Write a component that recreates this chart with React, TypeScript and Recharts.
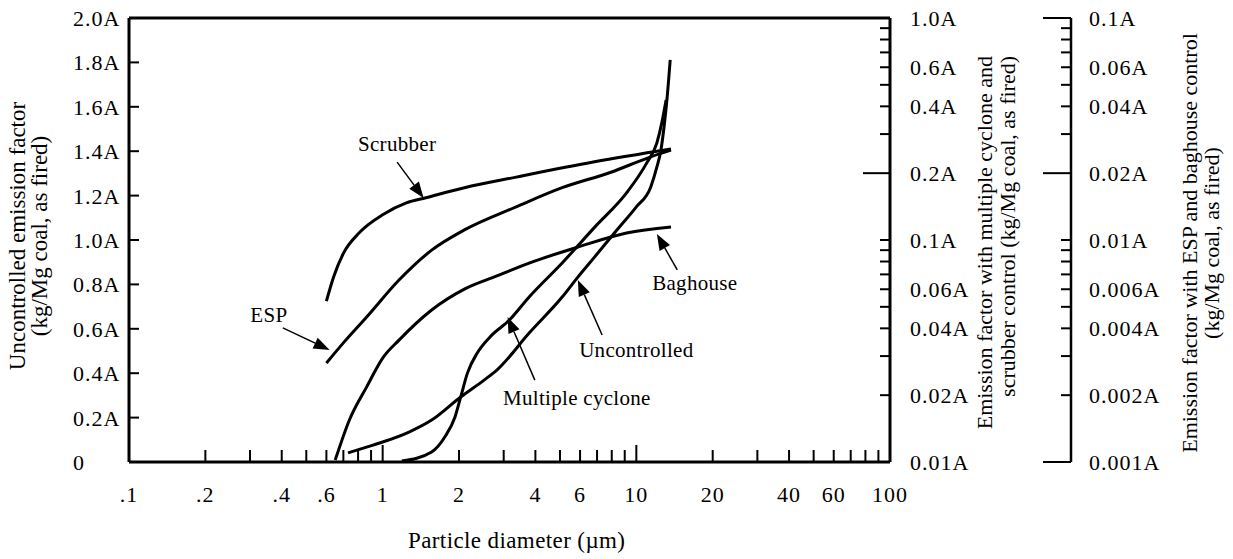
import { LineChart, Line, XAxis, YAxis, ReferenceLine, ReferenceDot } from "recharts";

const FONT = "'Liberation Serif', 'Times New Roman', Times, serif";

// particle diameter (µm) -> cumulative emission factor
// uncontrolled is on the left (linear) axis
const uncontrolled = [
  { x: 0.73, y: 0.041 }, { x: 0.87, y: 0.068 }, { x: 1.0, y: 0.09 }, { x: 1.27, y: 0.135 },
  { x: 1.56, y: 0.189 }, { x: 2.03, y: 0.293 }, { x: 2.51, y: 0.369 }, { x: 2.82, y: 0.414 },
  { x: 3.78, y: 0.581 }, { x: 5.1, y: 0.743 }, { x: 5.88, y: 0.833 }, { x: 6.84, y: 0.923 },
  { x: 8.38, y: 1.045 }, { x: 10, y: 1.149 }, { x: 11.4, y: 1.239 }, { x: 12.05, y: 1.329 },
  { x: 12.5, y: 1.405 }, { x: 12.86, y: 1.509 }, { x: 13.2, y: 1.631 }, { x: 13.6, y: 1.811 },
];

// multiple cyclone and scrubber use the middle log axis
const multipleCyclone = [
  { x: 1.19, y: 0.0101 }, { x: 1.56, y: 0.0111 }, { x: 1.76, y: 0.013 }, { x: 1.93, y: 0.016 },
  { x: 2.03, y: 0.0196 }, { x: 2.16, y: 0.0252 }, { x: 2.36, y: 0.031 }, { x: 2.65, y: 0.0366 },
  { x: 3.16, y: 0.0436 }, { x: 3.78, y: 0.0554 }, { x: 5.1, y: 0.0788 }, { x: 6.84, y: 0.114 },
  { x: 9.15, y: 0.163 }, { x: 10.98, y: 0.222 }, { x: 12.05, y: 0.274 }, { x: 12.6, y: 0.337 },
  { x: 13.1, y: 0.427 },
];

const scrubber = [
  { x: 0.6, y: 0.053 }, { x: 0.64, y: 0.068 }, { x: 0.7, y: 0.087 }, { x: 0.81, y: 0.108 },
  { x: 1.0, y: 0.13 }, { x: 1.24, y: 0.147 }, { x: 1.48, y: 0.155 }, { x: 2.1, y: 0.172 },
  { x: 3.36, y: 0.192 }, { x: 6.84, y: 0.225 }, { x: 13.7, y: 0.257 },
];

// ESP and baghouse use the far right log axis
const esp = [
  { x: 0.6, y: 0.00279 }, { x: 0.7, y: 0.00344 }, { x: 0.865, y: 0.0045 }, { x: 1.16, y: 0.0066 },
  { x: 1.56, y: 0.009 }, { x: 2.1, y: 0.0111 }, { x: 3.36, y: 0.0141 }, { x: 5.1, y: 0.0172 },
  { x: 7.94, y: 0.0202 }, { x: 11.4, y: 0.0237 }, { x: 13.7, y: 0.0254 },
];

const baghouse = [
  { x: 0.65, y: 0.00102 }, { x: 0.74, y: 0.00155 }, { x: 0.865, y: 0.00218 }, { x: 1.0, y: 0.00294 },
  { x: 1.16, y: 0.00354 }, { x: 1.56, y: 0.00484 }, { x: 2.1, y: 0.00601 }, { x: 2.82, y: 0.00689 },
  { x: 3.78, y: 0.00787 }, { x: 5.88, y: 0.00929 }, { x: 9.15, y: 0.01075 }, { x: 13.7, y: 0.01144 },
];

const xTicks = [
  0.1, 0.2, 0.3, 0.4, 0.5, 0.6, 0.7, 0.8, 0.9, 1, 2, 3, 4, 5, 6, 7, 8, 9, 10,
  20, 30, 40, 50, 60, 70, 80, 90, 100,
];
const xLabelled = [0.1, 0.2, 0.4, 0.6, 1, 2, 4, 6, 10, 20, 40, 60, 100];

const leftTicks = [0, 0.2, 0.4, 0.6, 0.8, 1.0, 1.2, 1.4, 1.6, 1.8, 2.0];

const midTicks = [
  0.01, 0.02, 0.03, 0.04, 0.05, 0.06, 0.07, 0.08, 0.09,
  0.1, 0.2, 0.3, 0.4, 0.5, 0.6, 0.7, 0.8, 0.9, 1,
];
const midLabelled = [0.01, 0.02, 0.04, 0.06, 0.1, 0.2, 0.4, 0.6, 1];
const midLong = [0.2];

const farTicks = [
  0.001, 0.002, 0.003, 0.004, 0.005, 0.006, 0.007, 0.008, 0.009,
  0.01, 0.02, 0.03, 0.04, 0.05, 0.06, 0.07, 0.08, 0.09, 0.1,
];
const farLabelled = [0.001, 0.002, 0.004, 0.006, 0.01, 0.02, 0.04, 0.06, 0.1];
const farLong = [0.001, 0.02, 0.1];

// callouts, in µm / left-axis units
const notes = [
  { text: "Scrubber", at: [1.14, 1.432], from: [1.14, 1.351], to: [1.45, 1.189] },
  { text: "ESP", at: [0.356, 0.662], from: [0.404, 0.604], to: [0.618, 0.505] },
  { text: "Baghouse", at: [17.0, 0.806], from: [14.5, 0.865], to: [12.05, 1.027] },
  { text: "Uncontrolled", at: [10, 0.505], from: [7.33, 0.572], to: [5.88, 0.82] },
  { text: "Multiple cyclone", at: [5.83, 0.288], from: [3.98, 0.369], to: [3.11, 0.653] },
];

const tickText = { fontSize: 22, fontFamily: FONT, letterSpacing: 1, fill: "#000" };

const XTick = ({ x, y, payload }: any) => {
  const v = payload.value;
  const len = v === 1 || v === 10 ? 17 : 12;
  return (
    <g>
      {v > 0.1 && v < 100 && <line x1={x} x2={x} y1={y} y2={y - len} stroke="#000" strokeWidth={2} />}
      {xLabelled.includes(v) && (
        <text x={x} y={y + 40} textAnchor="middle" {...tickText}>
          {v < 1 ? String(v).slice(1) : String(v)}
        </text>
      )}
    </g>
  );
};

const LeftTick = ({ x, y, payload }: any) => {
  const v = payload.value;
  return (
    <g>
      {v > 0 && v < 2 && <line x1={x} x2={x + 10} y1={y} y2={y} stroke="#000" strokeWidth={2} />}
      <text x={x - 56} y={y + 8} textAnchor="start" {...tickText}>
        {v === 0 ? "0" : v.toFixed(1) + "A"}
      </text>
    </g>
  );
};

const MidTick = ({ x, y, payload }: any) => {
  const v = payload.value;
  const len = midLong.includes(v) ? 27 : 10;
  return (
    <g>
      {v > 0.01 && v < 1 && <line x1={x - len} x2={x} y1={y} y2={y} stroke="#000" strokeWidth={2} />}
      {midLabelled.includes(v) && (
        <text x={x + 20} y={y + 8} textAnchor="start" {...tickText}>
          {v >= 1 ? v.toFixed(1) + "A" : v + "A"}
        </text>
      )}
    </g>
  );
};

const FarTick = ({ x, y, payload }: any) => {
  const v = payload.value;
  const len = farLong.includes(v) ? 28 : 10;
  return (
    <g>
      <line x1={x - len} x2={x} y1={y} y2={y} stroke="#000" strokeWidth={2} />
      {farLabelled.includes(v) && (
        <text x={x + 18} y={y + 8} textAnchor="start" {...tickText}>
          {v + "A"}
        </text>
      )}
    </g>
  );
};

const VTitle = ({ x, y, text, size = 22, anchor = "middle" }: any) => (
  <text
    x={x}
    y={y}
    transform={`rotate(-90 ${x} ${y})`}
    textAnchor={anchor}
    fontSize={size}
    fontFamily={FONT}
    fill="#000"
  >
    {text}
  </text>
);

const Arrow = ({ x1, y1, x2, y2 }: any) => {
  const dx = x2 - x1;
  const dy = y2 - y1;
  const d = Math.hypot(dx, dy) || 1;
  const ux = dx / d;
  const uy = dy / d;
  const hl = 16;
  const hw = 6;
  const bx = x2 - ux * hl;
  const by = y2 - uy * hl;
  return (
    <g>
      <line x1={x1} y1={y1} x2={bx} y2={by} stroke="#000" strokeWidth={1.5} />
      <polygon
        points={`${x2},${y2} ${bx - uy * hw},${by + ux * hw} ${bx + uy * hw},${by - ux * hw}`}
        fill="#000"
      />
    </g>
  );
};

const axisLine = { stroke: "#000", strokeWidth: 3 };

export default function App() {
  return (
    <div style={{ position: "absolute", left: 0, top: 0, background: "#fff" }}>
      <LineChart
        width={1233}
        height={559}
        margin={{ top: 18, right: 0, bottom: 0, left: 0 }}
        style={{ fontFamily: FONT }}
      >
        <XAxis
          dataKey="x"
          type="number"
          scale="log"
          domain={[0.1, 100]}
          allowDataOverflow
          ticks={xTicks}
          interval={0}
          tickSize={0}
          tickMargin={0}
          tickLine={false}
          tick={<XTick />}
          axisLine={axisLine}
          height={97}
          label={({ viewBox }: any) => (
            <text
              x={viewBox.x + viewBox.width / 2 + 7}
              y={viewBox.y + 86}
              textAnchor="middle"
              fontSize={23}
              fontFamily={FONT}
              fill="#000"
              textLength={217}
              lengthAdjust="spacing"
            >
              Particle diameter (µm)
            </text>
          )}
        />
        <YAxis
          yAxisId="left"
          orientation="left"
          type="number"
          domain={[0, 2]}
          allowDataOverflow
          ticks={leftTicks}
          interval={0}
          tickSize={0}
          tickMargin={0}
          tickLine={false}
          tick={<LeftTick />}
          axisLine={axisLine}
          width={129}
          label={() => (
            <g>
              <VTitle x={25} y={236} size={23} text="Uncontrolled emission factor" />
              <VTitle x={47} y={236} size={23} text="(kg/Mg coal, as fired)" />
            </g>
          )}
        />
        {/* outermost right axis: ESP and baghouse */}
        <YAxis
          yAxisId="r2"
          orientation="right"
          type="number"
          scale="log"
          domain={[0.001, 0.1]}
          allowDataOverflow
          ticks={farTicks}
          interval={0}
          tickSize={0}
          tickMargin={0}
          tickLine={false}
          tick={<FarTick />}
          axisLine={{ stroke: "#000", strokeWidth: 2.5 }}
          width={162}
          label={() => (
            <g>
              <VTitle x={1197} y={243} text="Emission factor with ESP and baghouse control" />
              <VTitle x={1219} y={243} text="(kg/Mg coal, as fired)" />
            </g>
          )}
        />
        {/* inner right axis: multiple cyclone and scrubber */}
        <YAxis
          yAxisId="r1"
          orientation="right"
          type="number"
          scale="log"
          domain={[0.01, 1]}
          allowDataOverflow
          ticks={midTicks}
          interval={0}
          tickSize={0}
          tickMargin={0}
          tickLine={false}
          tick={<MidTick />}
          axisLine={axisLine}
          width={181}
          label={() => (
            <g>
              <VTitle x={992} y={56} anchor="end" text="Emission factor with multiple cyclone and" />
              <VTitle x={1015} y={56} anchor="end" text="scrubber control (kg/Mg coal, as fired)" />
            </g>
          )}
        />

        <ReferenceLine yAxisId="left" y={2} stroke="#000" strokeWidth={3} />

        <Line data={uncontrolled} dataKey="y" yAxisId="left" type="monotone" stroke="#000" strokeWidth={3} dot={false} isAnimationActive={false} />
        <Line data={multipleCyclone} dataKey="y" yAxisId="r1" type="monotone" stroke="#000" strokeWidth={3} dot={false} isAnimationActive={false} />
        <Line data={scrubber} dataKey="y" yAxisId="r1" type="monotone" stroke="#000" strokeWidth={3} dot={false} isAnimationActive={false} />
        <Line data={esp} dataKey="y" yAxisId="r2" type="monotone" stroke="#000" strokeWidth={3} dot={false} isAnimationActive={false} />
        <Line data={baghouse} dataKey="y" yAxisId="r2" type="monotone" stroke="#000" strokeWidth={3} dot={false} isAnimationActive={false} />

        {notes.map((n) => (
          <ReferenceLine
            key={n.text + "-arrow"}
            yAxisId="left"
            segment={[{ x: n.from[0], y: n.from[1] }, { x: n.to[0], y: n.to[1] }]}
            shape={(p: any) => <Arrow {...p} />}
          />
        ))}
        {notes.map((n) => (
          <ReferenceDot
            key={n.text}
            yAxisId="left"
            x={n.at[0]}
            y={n.at[1]}
            r={0}
            shape={(p: any) => (
              <text
                x={p.cx}
                y={p.cy}
                dy="0.35em"
                textAnchor="middle"
                fontSize={21}
                fontFamily={FONT}
                letterSpacing={0.3}
                fill="#000"
              >
                {n.text}
              </text>
            )}
          />
        ))}
      </LineChart>
    </div>
  );
}
